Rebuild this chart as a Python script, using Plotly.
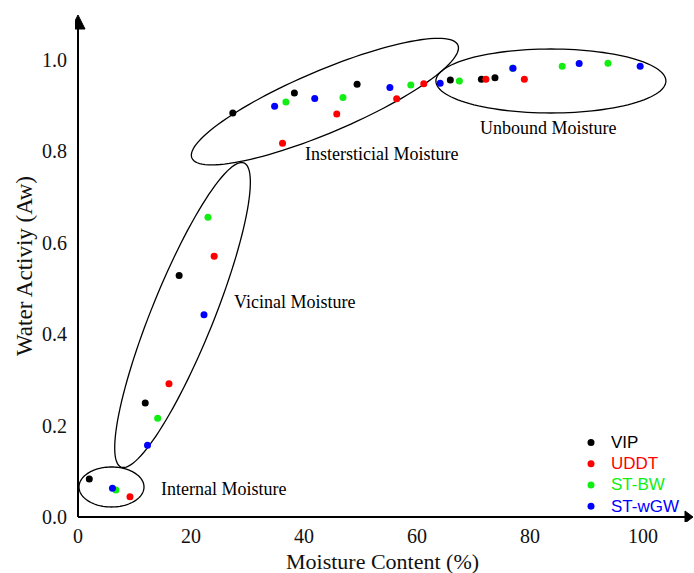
import numpy as np
import plotly.graph_objects as go

# Moisture content (%) and water activity for each drying method
vip_mc = [2.0, 11.9, 17.9, 27.4, 38.3, 49.4, 65.9, 71.4, 73.8]
vip_aw = [0.083, 0.249, 0.528, 0.883, 0.927, 0.946, 0.955, 0.957, 0.960]

uddt_mc = [9.2, 16.1, 24.1, 36.2, 45.8, 56.4, 61.2, 72.2, 79.0]
uddt_aw = [0.044, 0.291, 0.570, 0.817, 0.881, 0.914, 0.947, 0.957, 0.957]

stbw_mc = [6.7, 14.1, 23.0, 36.8, 46.9, 58.9, 67.5, 76.9, 85.7, 93.8]
stbw_aw = [0.059, 0.216, 0.655, 0.907, 0.917, 0.944, 0.953, 0.981, 0.985, 0.992]

stwgw_mc = [6.1, 12.3, 22.3, 34.8, 41.9, 55.2, 64.1, 77.0, 88.7, 99.5]
stwgw_aw = [0.063, 0.157, 0.442, 0.898, 0.915, 0.939, 0.948, 0.981, 0.991, 0.985]

x_ticks = [0, 20, 40, 60, 80, 100]
y_ticks = [0.0, 0.2, 0.4, 0.6, 0.8, 1.0]

# ---- figure geometry (pixels) ----
W, H = 694, 573
ML, MR, MT, MB = 75, 0, 12, 51
X0_PX, Y0_PX = 78, 517          # pixel position of the data origin
PX_X, PX_Y = 5.65, 457.5        # pixels per data unit
PLOT_W, PLOT_H = W - ML - MR, H - MT - MB

x_lo = -(X0_PX - ML) / PX_X
x_hi = x_lo + PLOT_W / PX_X
y_lo = -((H - MB) - Y0_PX) / PX_Y
y_hi = y_lo + PLOT_H / PX_Y


def paper_x(px):
    return (px - ML) / PLOT_W


def paper_y(py):
    return ((H - MB) - py) / PLOT_H


SERIF = "Liberation Serif, Times New Roman, serif"
SANS = "Liberation Sans, Arial, sans-serif"

series = [
    ("VIP", vip_mc, vip_aw, "#000000"),
    ("UDDT", uddt_mc, uddt_aw, "#ff0000"),
    ("ST-BW", stbw_mc, stbw_aw, "#11ee11"),
    ("ST-wGW", stwgw_mc, stwgw_aw, "#0000ff"),
]

fig = go.Figure()
for name, xs, ys, col in series:
    fig.add_trace(go.Scatter(
        x=xs, y=ys, mode="markers",
        marker=dict(color=col, size=7, line=dict(width=0)),
        name=f"<span style='color:{col};font-size:17px'>{name}</span>",
    ))


def ellipse_path(cx, cy, a, b, angle_deg, n=120):
    """Closed SVG path of an ellipse; a/b are semi-axes in screen pixels."""
    th = np.deg2rad(angle_deg)
    t = np.linspace(0, 2 * np.pi, n, endpoint=False)
    px = a * np.cos(t) * np.cos(th) - b * np.sin(t) * np.sin(th)
    py = a * np.cos(t) * np.sin(th) + b * np.sin(t) * np.cos(th)
    xs = cx + px / PX_X
    ys = cy + py / PX_Y
    pts = [f"{x:.4f},{y:.5f}" for x, y in zip(xs, ys)]
    return "M" + " L".join(pts) + " Z"


# moisture-region outlines: centre (data), semi-axes (px), tilt (deg)
regions = [
    (5.93, 0.0656, 32.5, 20, 0),
    (18.5, 0.4415, 164, 31, 68),
    (43.7, 0.908, 144.5, 31, 23),
    (83.7, 0.953, 115, 32, 0),
]
shapes = []
for cx, cy, a, b, ang in regions:
    shapes.append(dict(type="path", path=ellipse_path(cx, cy, a, b, ang),
                       xref="x", yref="y", line=dict(color="black", width=1.3),
                       fillcolor="rgba(0,0,0,0)", layer="below"))

# axis lines with arrow heads
y_top_tip = (Y0_PX - 15) / PX_Y
y_top_base = (Y0_PX - 29) / PX_Y
x_right_tip = (W - 1 - X0_PX) / PX_X
x_right_base = (W - 9 - X0_PX) / PX_X
hw_x = 7 / PX_X
hh_y = 6 / PX_Y
shapes.append(dict(type="line", x0=0, y0=0, x1=0, y1=y_top_base, xref="x", yref="y",
                   line=dict(color="black", width=2)))
shapes.append(dict(type="line", x0=0, y0=0, x1=x_right_base, y1=0, xref="x", yref="y",
                   line=dict(color="black", width=2)))
shapes.append(dict(type="path", xref="x", yref="y",
                   path=f"M{-hw_x},{y_top_base} L0,{y_top_tip} L{hw_x},{y_top_base} Z",
                   fillcolor="black", line=dict(color="black", width=1)))
shapes.append(dict(type="path", xref="x", yref="y",
                   path=f"M{x_right_base},{-hh_y} L{x_right_tip},0 L{x_right_base},{hh_y} Z",
                   fillcolor="black", line=dict(color="black", width=1)))

region_font = dict(family=SERIF, size=18, color="black")
annotations = [
    dict(x=14.3, y=0.061, text="Internal Moisture"),
    dict(x=27.3, y=0.470, text="Vicinal Moisture"),
    dict(x=39.8, y=0.793, text="Instersticial Moisture"),
    dict(x=70.8, y=0.850, text="Unbound Moisture"),
]
for ann in annotations:
    ann.update(xref="x", yref="y", xanchor="left", yanchor="middle",
               showarrow=False, font=region_font)

annotations.append(dict(x=paper_x(382), y=paper_y(561), xref="paper", yref="paper",
                        text="Moisture Content (%)",
                        showarrow=False, xanchor="center", yanchor="middle",
                        font=dict(family=SERIF, size=22, color="#111")))
annotations.append(dict(x=paper_x(24), y=paper_y(266), xref="paper", yref="paper",
                        text="Water Activiy (Aw)",
                        showarrow=False, xanchor="center", yanchor="middle", textangle=-90,
                        font=dict(family=SERIF, size=23, color="#111")))

fig.update_layout(
    width=W, height=H,
    margin=dict(l=ML, r=MR, t=MT, b=MB, pad=0, autoexpand=False),
    paper_bgcolor="white", plot_bgcolor="white",
    shapes=shapes, annotations=annotations,
    showlegend=True,
    legend=dict(x=paper_x(571), y=paper_y(427),
                xanchor="left", yanchor="top", bgcolor="rgba(0,0,0,0)",
                font=dict(family=SANS, size=14), tracegroupgap=0,
                itemwidth=30),
    xaxis=dict(range=[x_lo, x_hi], tickvals=x_ticks, ticktext=[str(v) for v in x_ticks],
               showgrid=False, zeroline=False, showline=False, ticks="",
               tickfont=dict(family=SERIF, size=20, color="#111"), ticklabelstandoff=0),
    yaxis=dict(range=[y_lo, y_hi], tickvals=y_ticks, ticktext=[f"{v:.1f}" for v in y_ticks],
               showgrid=False, zeroline=False, showline=False, ticks="",
               tickfont=dict(family=SERIF, size=20, color="#111"), ticklabelstandoff=7),
)

fig.write_html("out.html")
